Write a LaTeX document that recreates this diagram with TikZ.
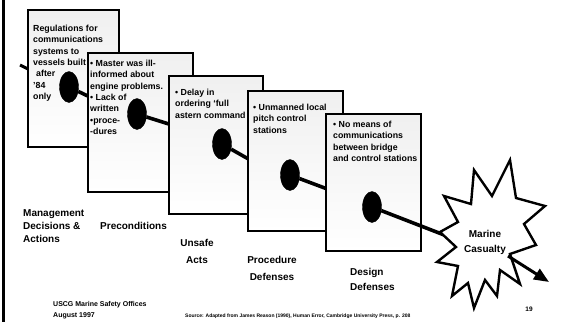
\documentclass[tikz,border=0pt]{standalone}
\usepackage{fontspec}
\setmainfont{Liberation Sans}
\usetikzlibrary{arrows.meta,shapes.geometric}
\begin{document}
\begin{tikzpicture}[x=1pt,y=-1pt,
  panel/.style={draw=black, line width=2.2pt, top color=black!6, bottom color=white,
                anchor=north west, inner sep=0pt},
  hole/.style={ellipse, fill=black, draw=black, inner sep=0pt,
               minimum width=19pt, minimum height=31pt},
  stem/.style={line width=3.6pt, black},
  boxtext/.style={anchor=north west, align=left, inner sep=0pt,
                  font=\fontsize{8.8}{11.3}\selectfont\bfseries},
  lab/.style={inner sep=0pt, font=\fontsize{10}{13}\selectfont\bfseries},
  foot/.style={anchor=west, inner sep=0pt, font=\fontsize{7}{9}\selectfont\bfseries},
  burst/.style={draw=black, fill=white, line width=2.4pt, line join=miter}]

\useasboundingbox (0,0) rectangle (573,322);
\fill[white] (0,0) rectangle (573,322);

% heavy rule down the left margin
\draw[line width=3.6pt] (3.5,0) -- (3.5,322);

% trajectory entering the first layer
\coordinate (t0) at (20,65);
\coordinate (t1) at (28,69);
\draw[stem, line width=3pt] (t0) -- (t1);

% layer 1
\node[panel, minimum width=91pt, minimum height=137pt] (b1) at (27,9) {};
\node[boxtext] (x1) at (33,25) {Regulations for\\communications\\systems to\\vessels built\\\hspace{3pt}after\\'84\\only};
\node[hole] (h1) at (69,87) {};
\coordinate (s1) at (92,98);
\draw[stem] (h1) -- (s1);

% layer 2
\node[panel, minimum width=105pt, minimum height=139pt] (b2) at (87,52) {};
\node[boxtext] (x2) at (90,60) {• Master was ill-\\informed about\\engine problems.\\• Lack of\\written\\•proce-\\-dures};
\node[hole] (h2) at (137,114) {};
\coordinate (s2) at (172,125);
\draw[stem] (h2) -- (s2);

% layer 3
\node[panel, minimum width=94pt, minimum height=138pt] (b3) at (168,75) {};
\node[boxtext] (x3) at (175,89) {• Delay in\\ordering ‘full\\astern command};
\node[hole] (h3) at (222,144) {};
\coordinate (s3) at (252,161);
\draw[stem] (h3) -- (s3);

% layer 4
\node[panel, minimum width=95pt, minimum height=140pt] (b4) at (247,90) {};
\node[boxtext] (x4) at (253,104) {• Unmanned local\\pitch control\\stations};
\node[hole] (h4) at (290,175) {};
\coordinate (s4) at (330,190);
\draw[stem] (h4) -- (s4);

% layer 5
\node[panel, minimum width=95pt, minimum height=137pt] (b5) at (325,113) {};
\node[boxtext] (x5) at (333,121) {• No means of\\communications\\between bridge\\and control stations};
\node[hole] (h5) at (372,207) {};
\coordinate (s5) at (452,238);
\draw[stem] (h5) -- (s5);

% the accident burst
\draw[burst] (510,160) -- (516,198) -- (545,206) -- (524,224) -- (536,245)
  -- (510,254) -- (520,284) -- (500,270) -- (497,296) -- (485,280)
  -- (474,308) -- (468,283) -- (452,296) -- (458,266) -- (437,262)
  -- (456,247) -- (440,232) -- (458,222) -- (444,196) -- (471,204)
  -- (474,170) -- (492,196) -- cycle;
\node[lab, align=center, font=\fontsize{10}{15}\selectfont\bfseries] (mc) at (485,242.5) {Marine\\Casualty};
\coordinate (a0) at (508,256);
\coordinate (a1) at (549,282);
\draw[stem, line width=3pt, -{Triangle[length=15pt,width=12pt]}] (a0) -- (a1);

% layer captions
\node[lab, anchor=west, align=left] (l1) at (23,226) {Management\\Decisions \&\\Actions};
\node[lab, anchor=west] (l2) at (100,226) {Preconditions};
\node[lab, align=center, font=\fontsize{10}{17}\selectfont\bfseries] (l3) at (197,251.5) {Unsafe\\Acts};
\node[lab, align=center, font=\fontsize{10}{17}\selectfont\bfseries] (l4) at (272,268.5) {Procedure\\Defenses};
\node[lab, anchor=west, align=left, font=\fontsize{10}{15}\selectfont\bfseries] (l5) at (350,279.5) {Design\\Defenses};

% footer
\node[foot] (f1) at (53,305) {USCG Marine Safety Offices};
\node[foot] (f2) at (53,316) {August 1997};
\node[foot, font=\fontsize{5}{6}\selectfont\bfseries] (src) at (185,316) {Source: Adapted from James Reason (1990), Human Error, Cambridge University Press, p. 208};
\node[inner sep=0pt, font=\fontsize{6.5}{8}\selectfont\bfseries] (pg) at (529,309) {19};
\end{tikzpicture}
\end{document}
